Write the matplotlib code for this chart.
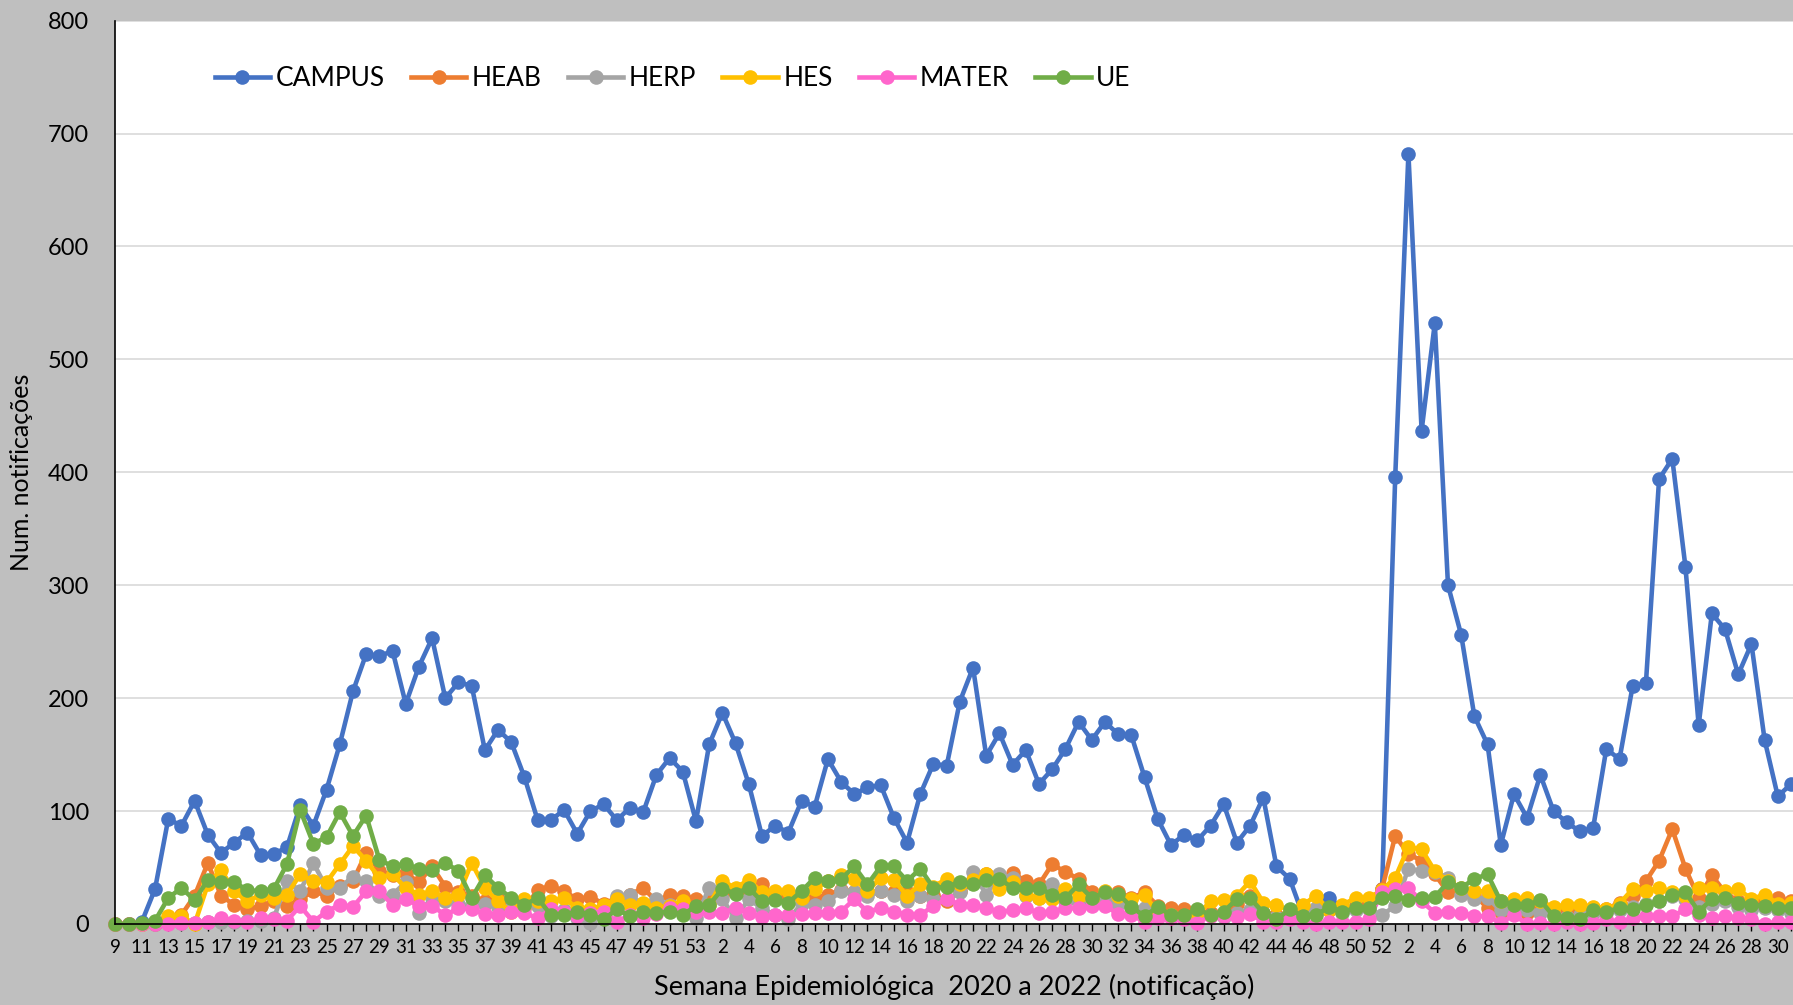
# ================================================================
#  Notificações por semana epidemiológica (2020 a 2022)
#  Saída : out.png
# ================================================================

import numpy as np
import matplotlib.pyplot as plt

SAIDA = "out.png"

# ════════════════════════════════════════════════════════════
#  DADOS — semanas 9/2020 até 31/2022
# ════════════════════════════════════════════════════════════
semanas = list(range(9, 54)) + list(range(1, 53)) + list(range(1, 32))

campus = [0, 0, 2, 31, 93, 87, 109, 79, 63, 72,
          81, 61, 62, 68, 105, 87, 119, 159, 206, 239,
          237, 242, 195, 228, 253, 200, 214, 211, 154, 172,
          161, 130, 92, 92, 101, 80, 100, 106, 92, 103,
          99, 132, 147, 135, 91, 159, 187, 160, 124, 78,
          87, 81, 109, 104, 146, 126, 115, 121, 123, 94,
          72, 115, 142, 140, 197, 227, 149, 169, 141, 154,
          124, 137, 155, 179, 163, 179, 168, 167, 130, 93,
          70, 79, 74, 87, 106, 72, 87, 112, 51, 40,
          8, 12, 23, 14, 16, 18, 31, 396, 682, 437,
          532, 300, 256, 184, 159, 70, 115, 94, 132, 100,
          90, 82, 85, 155, 146, 211, 213, 394, 412, 316,
          176, 275, 261, 221, 248, 163, 113, 124]

heab = [0, 0, 0, 0, 5, 8, 25, 54, 25, 17,
        13, 16, 20, 16, 22, 29, 25, 34, 38, 63,
        47, 43, 45, 37, 51, 33, 28, 25, 20, 22,
        18, 14, 30, 34, 29, 22, 24, 18, 23, 26,
        32, 20, 26, 25, 22, 20, 26, 28, 30, 35,
        25, 24, 22, 23, 26, 30, 28, 28, 29, 28,
        28, 25, 26, 20, 29, 36, 44, 40, 45, 38,
        35, 53, 46, 40, 28, 28, 28, 23, 28, 16,
        14, 13, 10, 10, 7, 18, 25, 10, 8, 5,
        8, 10, 12, 13, 15, 18, 31, 78, 62, 56,
        44, 28, 30, 26, 14, 11, 14, 10, 19, 14,
        12, 10, 12, 13, 19, 25, 38, 56, 84, 49,
        23, 43, 28, 20, 18, 22, 23, 20]

herp = [0, 0, 0, 0, 1, 1, 1, 2, 2, 2,
        3, 3, 5, 38, 29, 54, 32, 32, 42, 38,
        25, 26, 37, 10, 23, 20, 18, 16, 18, 15,
        14, 16, 16, 7, 12, 5, 1, 8, 25, 26,
        17, 22, 17, 18, 5, 32, 22, 5, 22, 14,
        8, 4, 18, 17, 20, 29, 28, 25, 29, 26,
        20, 25, 22, 22, 28, 46, 26, 44, 41, 25,
        23, 35, 20, 18, 20, 22, 18, 15, 14, 8,
        8, 6, 5, 8, 6, 10, 12, 8, 6, 10,
        8, 14, 12, 10, 12, 13, 8, 16, 49, 47,
        46, 41, 26, 22, 23, 12, 10, 12, 10, 8,
        6, 8, 10, 10, 12, 15, 18, 20, 25, 22,
        15, 18, 20, 15, 12, 14, 12, 10]

hes = [0, 0, 0, 2, 7, 7, 0, 35, 48, 29,
       20, 26, 23, 26, 44, 38, 37, 53, 69, 56,
       41, 44, 32, 26, 29, 23, 26, 54, 32, 20,
       11, 22, 20, 20, 23, 14, 13, 17, 22, 17,
       19, 14, 16, 20, 14, 17, 38, 32, 39, 28,
       29, 29, 23, 31, 38, 43, 40, 29, 41, 39,
       25, 35, 33, 40, 35, 39, 44, 31, 37, 26,
       23, 22, 31, 25, 22, 29, 25, 22, 26, 10,
       8, 6, 8, 20, 21, 25, 38, 19, 17, 12,
       17, 25, 12, 17, 23, 23, 30, 41, 68, 66,
       47, 38, 32, 29, 29, 20, 22, 23, 20, 15,
       17, 17, 15, 13, 18, 31, 29, 32, 28, 25,
       32, 32, 29, 31, 22, 26, 18, 19]

mater = [0, 0, 0, 0, 0, 1, 1, 2, 5, 3,
         2, 5, 4, 3, 16, 2, 11, 17, 15, 29,
         29, 17, 22, 16, 16, 8, 14, 13, 9, 8,
         11, 10, 5, 13, 11, 7, 10, 11, 2, 8,
         5, 9, 14, 13, 11, 11, 10, 14, 10, 6,
         8, 8, 9, 10, 10, 11, 22, 11, 14, 11,
         8, 8, 16, 22, 17, 17, 14, 11, 12, 14,
         10, 11, 14, 14, 16, 16, 9, 8, 2, 5,
         5, 4, 1, 7, 7, 6, 9, 2, 2, 4,
         2, 0, 2, 2, 2, 4, 28, 31, 32, 20,
         10, 11, 10, 7, 7, 1, 8, 0, 1, 0,
         2, 0, 1, 4, 2, 5, 7, 7, 7, 13,
         8, 5, 7, 5, 4, 0, 2, 2]

ue = [0, 0, 1, 3, 23, 32, 21, 39, 37, 37,
      30, 29, 31, 53, 101, 71, 77, 99, 78, 96,
      57, 51, 53, 49, 48, 54, 47, 23, 43, 32,
      23, 17, 23, 8, 8, 11, 8, 4, 13, 7,
      11, 10, 11, 8, 16, 17, 31, 27, 32, 20,
      21, 19, 29, 41, 38, 40, 51, 35, 51, 51,
      38, 49, 32, 33, 37, 35, 39, 40, 32, 32,
      32, 26, 23, 35, 23, 28, 27, 15, 7, 15,
      8, 8, 13, 8, 11, 22, 23, 10, 4, 13,
      7, 8, 15, 11, 14, 14, 23, 25, 21, 23,
      24, 37, 32, 40, 44, 20, 17, 17, 21, 7,
      5, 4, 12, 11, 14, 13, 17, 20, 26, 28,
      11, 22, 23, 19, 17, 16, 14, 14]

nomes = ["CAMPUS", "HEAB", "HERP", "HES", "MATER", "UE"]
cores = ["#4472C4", "#ED7D31", "#A5A5A5", "#FFC000", "#FF66CC", "#70AD47"]

plt.rcParams["font.family"] = ["Lato", "DejaVu Sans"]

# ════════════════════════════════════════════════════════════
#  GRÁFICO
# ════════════════════════════════════════════════════════════
fig = plt.figure(figsize=(17.93, 10.05), dpi=100, facecolor="#BFBFBF")
ax = fig.add_axes([0.0644, 0.0806, 0.9356, 0.8989])
ax.set_facecolor("white")

x = np.arange(len(semanas))
for nome, vals, cor in zip(nomes, [campus, heab, herp, hes, mater, ue], cores):
    ax.plot(x, vals, color=cor, lw=3.3, marker="o", ms=10.5,
            markeredgewidth=0, label=nome, clip_on=False)

ax.set_xlim(0, len(semanas) - 0.85)
ax.set_ylim(0, 800)
ax.set_yticks(range(0, 801, 100))
ax.grid(axis="y", color="#D9D9D9", lw=1.2)
ax.set_axisbelow(True)

ax.set_xticks(x)
ax.set_xticklabels([str(s) if i % 2 == 0 else "" for i, s in enumerate(semanas)])
ax.tick_params(axis="x", length=5, width=1, direction="out", pad=6, labelsize=13.5)
ax.tick_params(axis="y", length=0, pad=19, labelsize=17)

ax.spines[["top", "right"]].set_visible(False)
ax.spines[["left", "bottom"]].set_linewidth(1.2)

ax.set_ylabel("Num. notificações", fontsize=18)
ax.yaxis.set_label_coords(-0.049, 0.5)
ax.set_xlabel("Semana Epidemiológica  2020 a 2022 (notificação)", fontsize=19.5)
ax.xaxis.set_label_coords(0.5, -0.055)

ax.legend(loc="center left", bbox_to_anchor=(0.045, 0.936), ncol=6,
          frameon=False, fontsize=19, handlelength=2.1,
          handletextpad=0.2, columnspacing=1.0)

fig.savefig(SAIDA, dpi=100, facecolor=fig.get_facecolor())
print("Gráfico salvo:", SAIDA)
